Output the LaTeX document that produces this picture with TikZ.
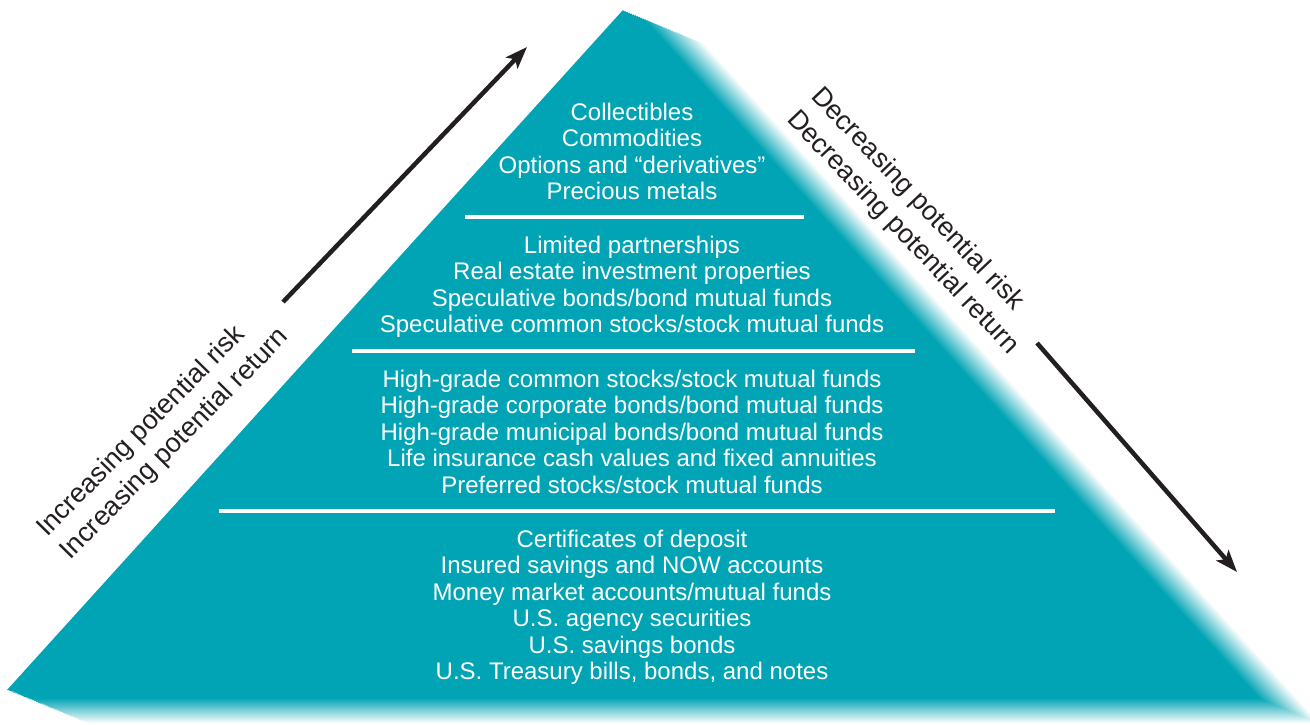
\documentclass[tikz,border=0pt]{standalone}
\usepackage{fontspec}
\setmainfont{Liberation Sans}
\usetikzlibrary{arrows.meta}
\definecolor{pyr}{RGB}{0,164,180}
\definecolor{ink}{RGB}{35,31,32}
\begin{document}
\begin{tikzpicture}[x=1pt,y=-1pt,
  tier/.style={align=center, text=white, inner sep=0pt, anchor=north, font=\fontsize{24}{26.4}\selectfont},
  side/.style={text=ink, inner sep=0pt, anchor=base west, font=\fontsize{27}{33}\selectfont},
  sepline/.style={white, line width=4.5pt},
  trend/.style={ink, line width=4.5pt, -{Stealth[length=22pt,width=16pt,inset=5pt]}}]
\useasboundingbox (0,0) rectangle (1310,724);
\begin{scope}
\clip (0,0) rectangle (1310,724);
\foreach \i in {40,39,...,1}{
  \pgfmathsetmacro\t{\i/40}
  \pgfmathsetmacro\p{\t<=0.25 ? 100 : 100*(1-\t)/0.75}
  \fill[pyr!\p!white, shift={(82*\t,34*\t)}] (623,10) -- (7,690) -- (1239,690) -- cycle;
}
\fill[pyr] (623,10) -- (7,690) -- (1239,690) -- cycle;
\end{scope}
% separators
\coordinate (s1a) at (465,217); \coordinate (s1b) at (804,217);
\coordinate (s2a) at (352,351); \coordinate (s2b) at (915,351);
\coordinate (s3a) at (219,511); \coordinate (s3b) at (1055,511);
\draw[sepline] (s1a) -- (s1b);
\draw[sepline] (s2a) -- (s2b);
\draw[sepline] (s3a) -- (s3b);
% tiers
\node[tier] (t1) at (632,101.9) {\strut Collectibles\\Commodities\\Options and “derivatives”\\Precious metals\strut};
\node[tier] (t2) at (632,234.9) {\strut Limited partnerships\\Real estate investment properties\\Speculative bonds/bond mutual funds\\Speculative common stocks/stock mutual funds\strut};
\node[tier] (t3) at (632,368.9) {\strut High-grade common stocks/stock mutual funds\\High-grade corporate bonds/bond mutual funds\\High-grade municipal bonds/bond mutual funds\\Life insurance cash values and fixed annuities\\Preferred stocks/stock mutual funds\strut};
\node[tier] (t4) at (632,528.9) {\strut Certificates of deposit\\Insured savings and NOW accounts\\Money market accounts/mutual funds\\U.S. agency securities\\U.S. savings bonds\\U.S. Treasury bills, bonds, and notes\strut};
% side labels
\node[side, rotate=45.5] (incrisk) at (47,538) {Increasing potential risk};
\node[side, rotate=45.5] (incret) at (70.5,561) {Increasing potential return};
\node[side, rotate=-46.5] (decrisk) at (810,97) {Decreasing potential risk};
\node[side, rotate=-46.5] (decret) at (786,120) {Decreasing potential return};
% arrows
\coordinate (up1) at (283,302); \coordinate (up2) at (527,47);
\coordinate (dn1) at (1037,343); \coordinate (dn2) at (1237,572);
\draw[trend] (up1) -- (up2);
\draw[trend] (dn1) -- (dn2);
\end{tikzpicture}
\end{document}
